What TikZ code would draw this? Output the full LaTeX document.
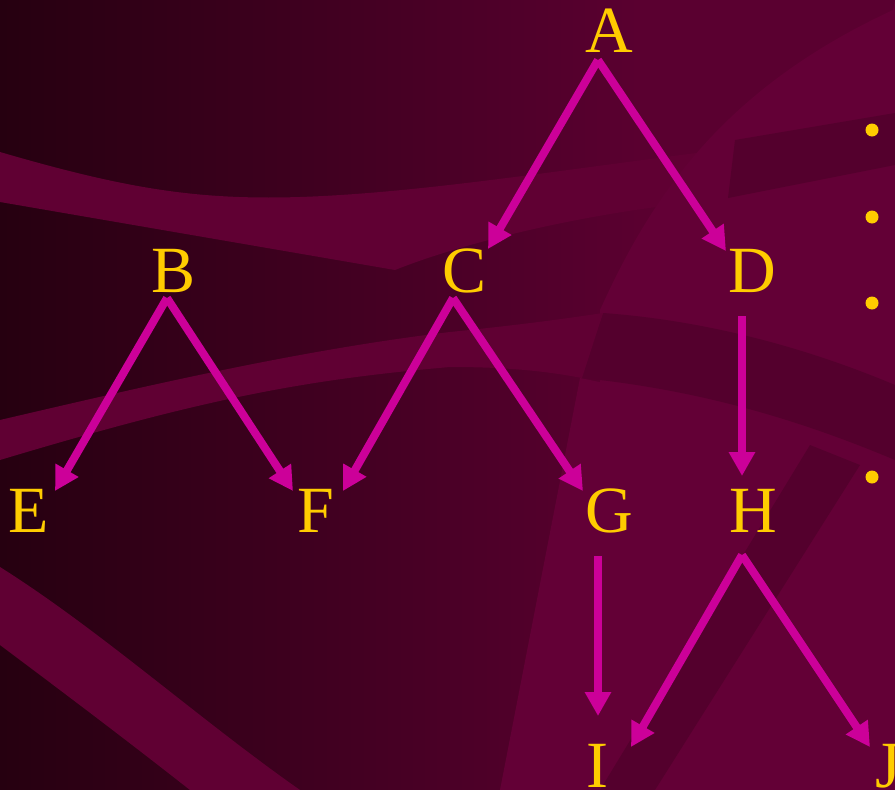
\documentclass[tikz,border=0pt]{standalone}
\usepackage{fontspec}
\setmainfont{Liberation Serif}
\usetikzlibrary{arrows.meta,calc}
\definecolor{bgL}{HTML}{260010}
\definecolor{bgR}{HTML}{5A0030}
\definecolor{bandc}{HTML}{600033}
\definecolor{lightc}{HTML}{630036}
\definecolor{darkc}{HTML}{54002D}
\definecolor{gold}{HTML}{FFCC00}
\definecolor{mag}{HTML}{CC0099}
\begin{document}
\begin{tikzpicture}[x=1pt,y=-1pt,
  letter/.style={text=gold,font=\fontsize{66}{66}\selectfont,inner sep=0pt,anchor=base},
  arr/.style={draw=mag,line width=8pt,-{Triangle[length=24pt,width=25pt]}},
  bullet/.style={circle,fill=gold,inner sep=0pt,minimum size=13pt}]
\useasboundingbox (0,0) rectangle (895,790);
\clip (0,0) rectangle (895,790);
% background
\fill[bgR] (0,0) rectangle (895,790);
\shade[left color=bgL,right color=bgR] (0,0) rectangle (640,790);
% top-left band
\fill[bandc] (0,152) .. controls (130,190) and (200,200) .. (300,197) .. controls (420,193) and (560,170) .. (720,150) -- (720,200) .. controls (600,210) and (470,240) .. (395,270) -- (0,202) -- cycle;
% right lighter region
\fill[lightc] (600,310) .. controls (650,200) and (720,90) .. (893,10) -- (895,0) -- (895,790) -- (600,790) -- cycle;
\fill[darkc] (735,140) -- (895,113) -- (895,165) -- (728,198) -- cycle;
\fill[darkc] (603,313) .. controls (700,320) and (800,345) .. (895,385) -- (895,460) .. controls (800,420) and (700,390) .. (582,378) -- cycle;
\fill[lightc] (580,378) -- (677,398) -- (615,790) -- (500,790) -- cycle;
\fill[darkc] (810,445) -- (860,465) -- (655,790) -- (600,790) -- cycle;
% middle band
\fill[bandc] (0,420) .. controls (150,385) and (300,350) .. (450,332) .. controls (520,325) and (570,318) .. (603,313) -- (582,378) .. controls (540,370) and (500,367) .. (450,367) .. controls (300,380) and (200,400) .. (0,460) -- cycle;
% lower-left band
\fill[bandc] (0,567) .. controls (100,630) and (200,720) .. (300,790) -- (190,790) .. controls (120,735) and (60,690) .. (0,645) -- cycle;
% letters
\node[letter] (A) at (609,52) {A};
\node[letter] (B) at (174,292) {B};
\node[letter] (C) at (465,292) {C};
\node[letter] (D) at (752,292) {D};
\node[letter] (E) at (29,532) {E};
\node[letter] (F) at (316,532) {F};
\node[letter] (G) at (609,532) {G};
\node[letter] (H) at (753,532) {H};
\node[letter] (I) at (597,787) {I};
\node[letter] (J) at (888,787) {J};
% bullets
\node[bullet] (b1) at (872,130) {};
\node[bullet] (b2) at (872,217) {};
\node[bullet] (b3) at (872,303) {};
\node[bullet] (b4) at (872,477) {};
% arrows
\draw[arr] ($(A.base)+(-11,8)$) -- ($(C.base)+(23,-43)$);
\draw[arr] ($(A.base)+(-11,8)$) -- ($(D.base)+(-26,-41)$);
\draw[arr] ($(B.base)+(-7,6)$) -- ($(E.base)+(26,-41)$);
\draw[arr] ($(B.base)+(-7,6)$) -- ($(F.base)+(-23,-41)$);
\draw[arr] ($(C.base)+(-12,6)$) -- ($(F.base)+(27,-41)$);
\draw[arr] ($(C.base)+(-12,6)$) -- ($(G.base)+(-26,-41)$);
\draw[arr] ($(D.base)+(-10,24)$) -- ($(H.base)+(-11,-56)$);
\draw[arr] ($(G.base)+(-11,24)$) -- ($(I.base)+(1,-71)$);
\draw[arr] ($(H.base)+(-11,23)$) -- ($(I.base)+(34,-40)$);
\draw[arr] ($(H.base)+(-11,23)$) -- ($(J.base)+(-18,-40)$);
\end{tikzpicture}
\end{document}
